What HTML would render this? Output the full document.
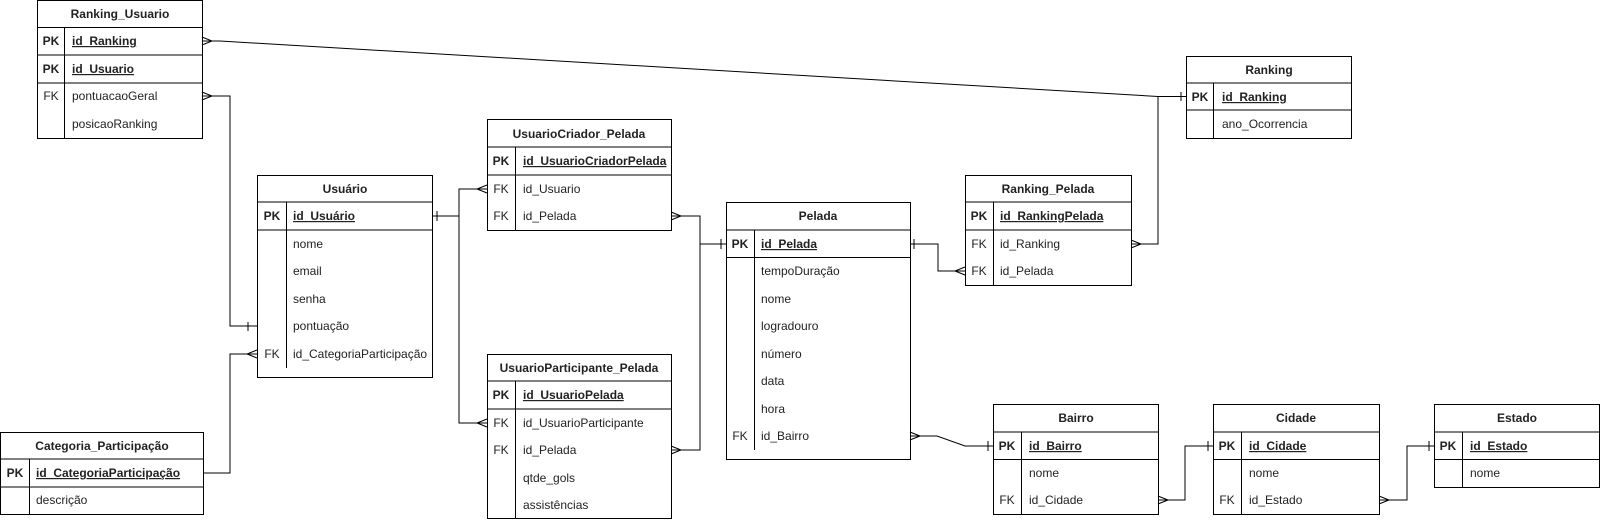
<!DOCTYPE html>
<html><head><meta charset="utf-8"><style>
html,body{margin:0;padding:0;background:#fff;width:1600px;height:520px;overflow:hidden}
svg{display:block}
text{font-family:"Liberation Sans",Arial,sans-serif;font-size:12px;fill:#222}
.h{font-weight:bold;text-anchor:middle}
.k{font-weight:bold;text-anchor:middle}
.f{text-anchor:middle}
.u{font-weight:bold;text-decoration:underline}
rect,line,path,polyline{fill:none;stroke:#000;stroke-width:1}
</style></head><body>
<svg width="1600" height="520" viewBox="0 0 1600 520">
<!-- connectors -->
<g>
<!-- Ranking_Usuario.id_Ranking -> Ranking -->
<polyline points="202,41 220,41 1158,96.5 1186,96.5"/>
<path d="M202,37 L212,41 L202,45"/><line x1="1181" y1="92" x2="1181" y2="101"/>
<!-- pontuacaoGeral -> Usuario pontuacao -->
<polyline points="202,96 230,96 230,326 257,326"/>
<path d="M202,92 L212,96 L202,100"/><line x1="248" y1="322" x2="248" y2="331"/>
<!-- Categoria -> Usuario FK -->
<polyline points="203,473 230,473 230,354 257,354"/>
<path d="M257,350 L247,354 L257,358"/>
<!-- Usuario PK -> UC id_Usuario / UP id_UsuarioParticipante -->
<polyline points="432,216 459,216"/>
<polyline points="487,189 459,189 459,423 487,423"/>
<line x1="437" y1="211" x2="437" y2="221"/>
<path d="M487,185 L477,189 L487,193"/><path d="M487,419 L477,423 L487,427"/>
<!-- UC id_Pelada / UP id_Pelada -> Pelada PK -->
<polyline points="671,216 700,216 700,450 671,450"/>
<polyline points="700,244 726,244"/>
<path d="M671,212 L681,216 L671,220"/><path d="M671,446 L681,450 L671,454"/>
<line x1="721" y1="239" x2="721" y2="249"/>
<!-- Pelada PK -> Ranking_Pelada id_Pelada -->
<polyline points="910,244 938,244 938,271 965,271"/>
<line x1="914" y1="239" x2="914" y2="249"/><path d="M965,267 L955,271 L965,275"/>
<!-- Ranking_Pelada id_Ranking -> Ranking -->
<polyline points="1131,244 1158,244 1158,96.5"/>
<path d="M1131,240 L1141,244 L1131,248"/>
<!-- Pelada id_Bairro -> Bairro -->
<polyline points="910,436 937,436 965,446 993,446"/>
<path d="M910,432 L920,436 L910,440"/><line x1="988" y1="441" x2="988" y2="451"/>
<!-- Bairro id_Cidade -> Cidade -->
<polyline points="1158,500 1185,500 1185,446 1213,446"/>
<path d="M1158,496 L1168,500 L1158,504"/><line x1="1208" y1="441" x2="1208" y2="451"/>
<!-- Cidade id_Estado -> Estado -->
<polyline points="1379,500 1407,500 1407,446 1434,446"/>
<path d="M1379,496 L1389,500 L1379,504"/><line x1="1429" y1="441" x2="1429" y2="451"/>
</g>

<!-- Ranking_Usuario -->
<g>
<rect x="37.5" y="0.5" width="165" height="138"/>
<line x1="37.5" y1="27.5" x2="202.5" y2="27.5"/><line x1="37.5" y1="55" x2="202.5" y2="55"/><line x1="37.5" y1="83" x2="202.5" y2="83"/>
<line x1="64.5" y1="27.5" x2="64.5" y2="138.5"/>
<text class="h" x="120" y="18">Ranking_Usuario</text>
<text class="k" x="51" y="45">PK</text><text class="u" x="72" y="45">id_Ranking</text>
<text class="k" x="51" y="73">PK</text><text class="u" x="72" y="73">id_Usuario</text>
<text class="f" x="51" y="100">FK</text><text x="72" y="100">pontuacaoGeral</text>
<text x="72" y="128">posicaoRanking</text>
</g>
<!-- Ranking -->
<g>
<rect x="1186.5" y="56.5" width="165" height="82"/>
<line x1="1186.5" y1="83" x2="1351.5" y2="83"/><line x1="1186.5" y1="110" x2="1351.5" y2="110"/>
<line x1="1213.5" y1="83" x2="1213.5" y2="138.5"/>
<text class="h" x="1269" y="74">Ranking</text>
<text class="k" x="1200" y="101">PK</text><text class="u" x="1222" y="101">id_Ranking</text>
<text x="1222" y="128">ano_Ocorrencia</text>
</g>
<!-- UsuarioCriador_Pelada -->
<g>
<rect x="487.5" y="119.5" width="184" height="111"/>
<line x1="487.5" y1="147" x2="671.5" y2="147"/><line x1="487.5" y1="175" x2="671.5" y2="175"/>
<line x1="515.5" y1="147" x2="515.5" y2="230.5"/>
<text class="h" x="579" y="138">UsuarioCriador_Pelada</text>
<text class="k" x="501" y="165">PK</text><text class="u" x="523" y="165">id_UsuarioCriadorPelada</text>
<text class="f" x="501" y="193">FK</text><text x="523" y="193">id_Usuario</text>
<text class="f" x="501" y="220">FK</text><text x="523" y="220">id_Pelada</text>
</g>
<!-- Usuario -->
<g>
<rect x="257.5" y="175.5" width="175" height="202"/>
<line x1="257.5" y1="202" x2="432.5" y2="202"/><line x1="257.5" y1="230" x2="432.5" y2="230"/>
<line x1="286.5" y1="202" x2="286.5" y2="368"/>
<text class="h" x="345" y="193">Usuário</text>
<text class="k" x="272" y="220">PK</text><text class="u" x="293" y="220">id_Usuário</text>
<text x="293" y="248">nome</text>
<text x="293" y="275">email</text>
<text x="293" y="303">senha</text>
<text x="293" y="330">pontuação</text>
<text class="f" x="272" y="358">FK</text><text x="293" y="358">id_CategoriaParticipação</text>
</g>
<!-- Pelada -->
<g>
<rect x="726.5" y="202.5" width="184" height="257"/>
<line x1="726.5" y1="230" x2="910.5" y2="230"/><line x1="726.5" y1="257.5" x2="910.5" y2="257.5"/>
<line x1="754.5" y1="230" x2="754.5" y2="450"/>
<text class="h" x="818" y="220">Pelada</text>
<text class="k" x="740" y="248">PK</text><text class="u" x="761" y="248">id_Pelada</text>
<text x="761" y="275">tempoDuração</text>
<text x="761" y="303">nome</text>
<text x="761" y="330">logradouro</text>
<text x="761" y="358">número</text>
<text x="761" y="385">data</text>
<text x="761" y="413">hora</text>
<text class="f" x="740" y="440">FK</text><text x="761" y="440">id_Bairro</text>
</g>
<!-- Ranking_Pelada -->
<g>
<rect x="965.5" y="175.5" width="166" height="110"/>
<line x1="965.5" y1="202" x2="1131.5" y2="202"/><line x1="965.5" y1="230" x2="1131.5" y2="230"/>
<line x1="993.5" y1="202" x2="993.5" y2="285.5"/>
<text class="h" x="1048" y="193">Ranking_Pelada</text>
<text class="k" x="979" y="220">PK</text><text class="u" x="1000" y="220">id_RankingPelada</text>
<text class="f" x="979" y="248">FK</text><text x="1000" y="248">id_Ranking</text>
<text class="f" x="979" y="275">FK</text><text x="1000" y="275">id_Pelada</text>
</g>
<!-- UsuarioParticipante_Pelada -->
<g>
<rect x="487.5" y="354.5" width="184" height="164"/>
<line x1="487.5" y1="381" x2="671.5" y2="381"/><line x1="487.5" y1="409" x2="671.5" y2="409"/>
<line x1="515.5" y1="381" x2="515.5" y2="518.5"/>
<text class="h" x="579" y="372">UsuarioParticipante_Pelada</text>
<text class="k" x="501" y="399">PK</text><text class="u" x="523" y="399">id_UsuarioPelada</text>
<text class="f" x="501" y="427">FK</text><text x="523" y="427">id_UsuarioParticipante</text>
<text class="f" x="501" y="454">FK</text><text x="523" y="454">id_Pelada</text>
<text x="523" y="482">qtde_gols</text>
<text x="523" y="509">assistências</text>
</g>
<!-- Categoria_Participacao -->
<g>
<rect x="0.5" y="432.5" width="203" height="82"/>
<line x1="0.5" y1="459" x2="203.5" y2="459"/><line x1="0.5" y1="487" x2="203.5" y2="487"/>
<line x1="29.5" y1="459" x2="29.5" y2="514.5"/>
<text class="h" x="102" y="450">Categoria_Participação</text>
<text class="k" x="15" y="477">PK</text><text class="u" x="36" y="477">id_CategoriaParticipação</text>
<text x="36" y="504">descrição</text>
</g>
<!-- Bairro -->
<g>
<rect x="993.5" y="404.5" width="165" height="110"/>
<line x1="993.5" y1="432" x2="1158.5" y2="432"/><line x1="993.5" y1="459.5" x2="1158.5" y2="459.5"/>
<line x1="1021.5" y1="432" x2="1021.5" y2="514.5"/>
<text class="h" x="1076" y="422">Bairro</text>
<text class="k" x="1007" y="450">PK</text><text class="u" x="1029" y="450">id_Bairro</text>
<text x="1029" y="477">nome</text>
<text class="f" x="1007" y="504">FK</text><text x="1029" y="504">id_Cidade</text>
</g>
<!-- Cidade -->
<g>
<rect x="1213.5" y="404.5" width="166" height="110"/>
<line x1="1213.5" y1="432" x2="1379.5" y2="432"/><line x1="1213.5" y1="459.5" x2="1379.5" y2="459.5"/>
<line x1="1241.5" y1="432" x2="1241.5" y2="514.5"/>
<text class="h" x="1296" y="422">Cidade</text>
<text class="k" x="1227" y="450">PK</text><text class="u" x="1249" y="450">id_Cidade</text>
<text x="1249" y="477">nome</text>
<text class="f" x="1227" y="504">FK</text><text x="1249" y="504">id_Estado</text>
</g>
<!-- Estado -->
<g>
<rect x="1434.5" y="404.5" width="165" height="83"/>
<line x1="1434.5" y1="432" x2="1599.5" y2="432"/><line x1="1434.5" y1="459.5" x2="1599.5" y2="459.5"/>
<line x1="1462.5" y1="432" x2="1462.5" y2="487.5"/>
<text class="h" x="1517" y="422">Estado</text>
<text class="k" x="1448" y="450">PK</text><text class="u" x="1470" y="450">id_Estado</text>
<text x="1470" y="477">nome</text>
</g>
</svg>
</body></html>
